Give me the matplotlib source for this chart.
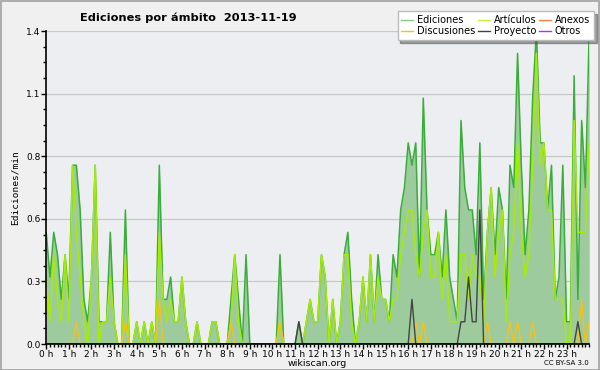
#!/usr/bin/env python3
"""Ediciones por ámbito, 2013-11-19 (wikiscan style area chart)."""
import matplotlib
matplotlib.use("Agg")
import matplotlib.pyplot as plt
from matplotlib.lines import Line2D
import numpy as np

# one value every 10 minutes, 00:00 .. 24:00 (edits per minute)
ediciones = [
    0.5, 0.3, 0.5, 0.4, 0.2, 0.4, 0.2, 0.8, 0.8, 0.6, 0.2, 0.1,
    0.3, 0.8, 0.1, 0.1, 0.1, 0.5, 0.1, 0.0, 0.0, 0.6, 0.0, 0.0,
    0.1, 0.0, 0.1, 0.0, 0.1, 0.0, 0.8, 0.2, 0.2, 0.3, 0.1, 0.1,
    0.3, 0.1, 0.0, 0.0, 0.1, 0.0, 0.0, 0.0, 0.1, 0.1, 0.0, 0.0,
    0.0, 0.2, 0.4, 0.2, 0.0, 0.4, 0.0, 0.0, 0.0, 0.0, 0.0, 0.0,
    0.0, 0.0, 0.4, 0.0, 0.0, 0.0, 0.0, 0.1, 0.0, 0.1, 0.2, 0.1,
    0.1, 0.4, 0.3, 0.0, 0.2, 0.0, 0.1, 0.4, 0.5, 0.2, 0.0, 0.1,
    0.3, 0.1, 0.4, 0.1, 0.4, 0.2, 0.2, 0.1, 0.4, 0.3, 0.6, 0.7,
    0.9, 0.8, 0.9, 0.3, 1.1, 0.6, 0.4, 0.4, 0.5, 0.3, 0.6, 0.3,
    0.2, 0.1, 1.0, 0.7, 0.6, 0.6, 0.4, 0.9, 0.2, 0.5, 0.7, 0.4,
    0.7, 0.6, 0.2, 0.8, 0.7, 1.3, 0.8, 0.4, 0.6, 1.1, 1.4, 0.9,
    0.9, 0.6, 0.8, 0.2, 0.3, 0.8, 0.1, 0.1, 1.2, 0.2, 1.0, 0.7,
    1.4,
]
articulos = [
    0.3, 0.1, 0.4, 0.2, 0.1, 0.4, 0.1, 0.8, 0.5, 0.3, 0.1, 0.0,
    0.3, 0.8, 0.0, 0.1, 0.1, 0.3, 0.1, 0.0, 0.0, 0.4, 0.0, 0.0,
    0.1, 0.0, 0.1, 0.0, 0.1, 0.0, 0.5, 0.2, 0.1, 0.2, 0.1, 0.1,
    0.3, 0.1, 0.0, 0.0, 0.1, 0.0, 0.0, 0.0, 0.1, 0.1, 0.0, 0.0,
    0.0, 0.1, 0.4, 0.1, 0.0, 0.0, 0.0, 0.0, 0.0, 0.0, 0.0, 0.0,
    0.0, 0.0, 0.1, 0.0, 0.0, 0.0, 0.0, 0.0, 0.0, 0.1, 0.2, 0.1,
    0.1, 0.4, 0.3, 0.0, 0.2, 0.0, 0.1, 0.4, 0.4, 0.1, 0.0, 0.1,
    0.3, 0.1, 0.4, 0.1, 0.3, 0.2, 0.2, 0.1, 0.2, 0.2, 0.4, 0.5,
    0.6, 0.6, 0.4, 0.3, 0.5, 0.6, 0.3, 0.3, 0.5, 0.2, 0.4, 0.1,
    0.1, 0.1, 0.4, 0.4, 0.2, 0.4, 0.3, 0.3, 0.1, 0.5, 0.7, 0.3,
    0.5, 0.6, 0.1, 0.4, 0.5, 0.9, 0.5, 0.3, 0.4, 0.8, 1.3, 0.8,
    0.9, 0.6, 0.6, 0.2, 0.2, 0.2, 0.0, 0.0, 1.0, 0.5, 0.5, 0.5,
    0.9,
]
# non-zero points only (slot index -> value)
discusiones_idx = [8, 21, 30, 49, 62, 98, 100, 117, 123, 125, 129, 142, 144]
discusiones_val = [0.1, 0.1, 0.2, 0.1, 0.1, 0.1, 0.1, 0.1, 0.1, 0.1, 0.1, 0.2, 0.1]
proyecto_idx = [67, 97, 110, 111, 112, 113, 114, 115, 141]
proyecto_val = [0.1, 0.2, 0.1, 0.1, 0.3, 0.1, 0.1, 0.6, 0.1]

hours = np.arange(len(ediciones)) / 6.0


def sparse(idx, val):
    s = np.zeros(len(ediciones))
    s[idx] = val
    return s


discusiones = sparse(discusiones_idx, discusiones_val)
proyecto = sparse(proyecto_idx, proyecto_val)

C_FILL = "#9dcb9d"
C_EDI = "#3aae3a"
C_ART = "#a6ec00"
C_DIS = "#f2c21b"
C_PRO = "#444444"
C_ANE = "#ff7f45"
C_OTR = "#9a3cf0"

fig = plt.figure(figsize=(6.0, 3.7), dpi=100, facecolor="#f0f0f0")
fig.patches.append(plt.Rectangle((0.001, 0.001), 0.998, 0.997, transform=fig.transFigure,
                                 fill=False, edgecolor="#a0a0a0", lw=1.2))
ax = fig.add_axes([0.077, 0.070, 0.905, 0.846])
ax.set_facecolor("#eceef1")

ax.fill_between(hours, 0, ediciones, color=C_FILL, lw=0, zorder=2)
ax.plot(hours, ediciones, color=C_EDI, lw=1.1, zorder=3)
ax.plot(hours, articulos, color=C_ART, lw=1.1, zorder=4)
ax.plot(hours, discusiones, color=C_DIS, lw=1.0, zorder=5)
ax.plot(hours, proyecto, color=C_PRO, lw=1.0, zorder=6)

ax.set_xlim(0, 24)
ax.set_ylim(0, 1.4)
yt = np.linspace(0, 1.4, 6)
ax.set_yticks(yt)
ax.set_yticklabels([f"{v:.1f}" for v in yt])
ax.set_yticks(np.linspace(0, 1.4, 21), minor=True)
ax.set_xticks(np.arange(24))
ax.set_xticklabels([f"{h} h" for h in range(24)])
ax.set_xticks(np.arange(0, 24.01, 1 / 6), minor=True)
ax.tick_params(axis="both", which="major", length=3.5, width=1, labelsize=6.5, pad=0.5)
ax.tick_params(axis="both", which="minor", length=2.5, width=1)
ax.grid(axis="y", color="#c8c8c8", lw=0.9, zorder=1)
ax.set_axisbelow(True)
for s in ("top", "right"):
    ax.spines[s].set_visible(False)
for s in ("left", "bottom"):
    ax.spines[s].set_linewidth(1.2)
    ax.spines[s].set_zorder(7)

ax.set_ylabel("Ediciones/min", family="DejaVu Sans Mono", fontsize=6.8, labelpad=5)
ax.set_xlabel("wikiscan.org", fontsize=6.8, labelpad=0)
fig.text(0.314, 0.951, "Ediciones por ámbito  2013-11-19", ha="center", va="center",
         fontsize=8.2, fontweight="bold")
fig.text(0.982, 0.018, "CC BY-SA 3.0", ha="right", va="center", fontsize=5)

handles = [
    Line2D([], [], color="#88cc88", lw=1, label="Ediciones"),
    Line2D([], [], color=C_DIS, lw=1, label="Discusiones"),
    Line2D([], [], color="#c8f040", lw=1, label="Artículos"),
    Line2D([], [], color=C_PRO, lw=1, label="Proyecto"),
    Line2D([], [], color=C_ANE, lw=1, label="Anexos"),
    Line2D([], [], color=C_OTR, lw=1, label="Otros"),
]
leg = fig.legend(handles=handles, ncol=3, loc="upper right", bbox_to_anchor=(0.99, 0.97),
                 fontsize=7, frameon=True, fancybox=False, shadow=True,
                 handlelength=1.2, handletextpad=0.4, columnspacing=0.3,
                 labelspacing=0.1, borderpad=0.4, borderaxespad=0)
leg.get_frame().set_edgecolor("#bbbbbb")
leg.get_frame().set_facecolor("white")
leg.set_zorder(10)

fig.savefig("out.png", dpi=100, facecolor=fig.get_facecolor())
